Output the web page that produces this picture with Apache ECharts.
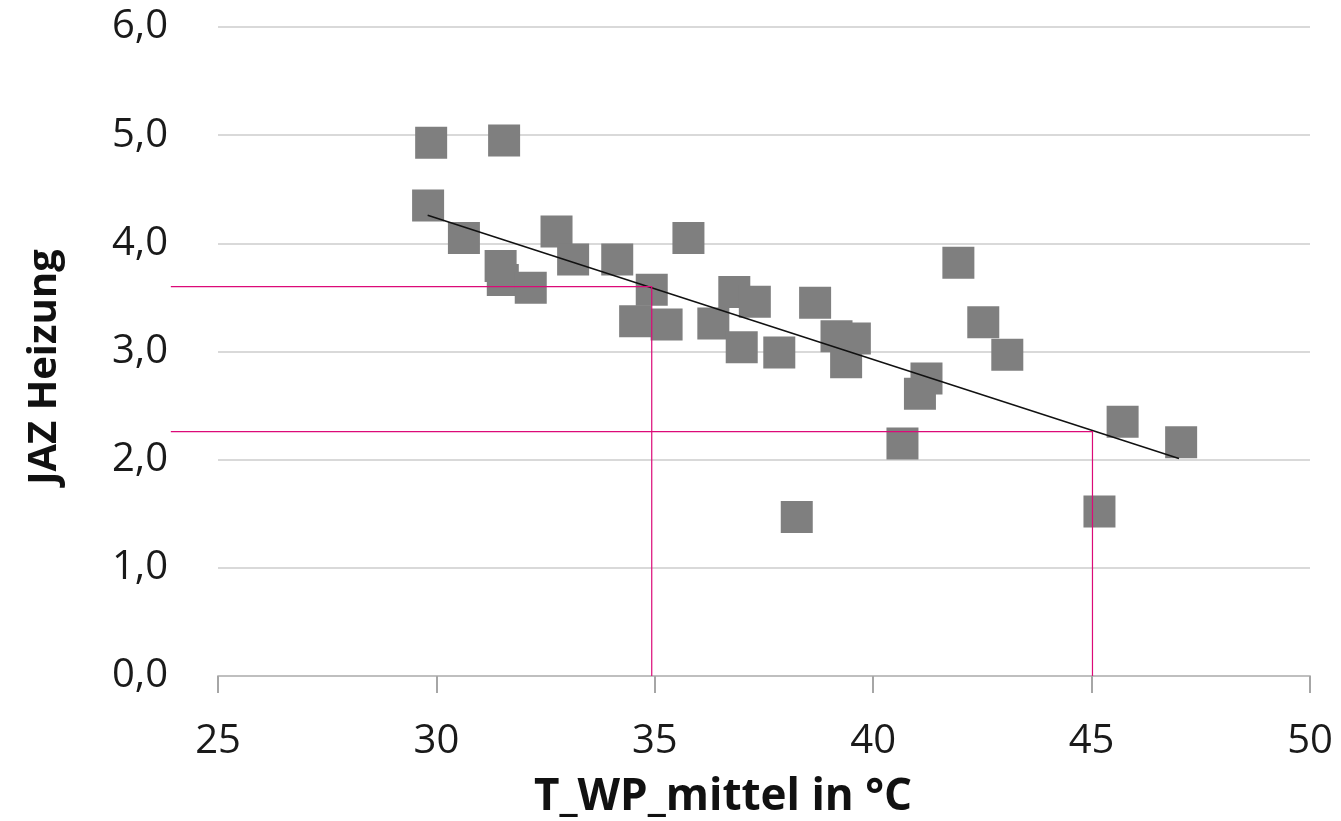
<!DOCTYPE html>
<html>
<head>
<meta charset="utf-8">
<script src="https://cdn.jsdelivr.net/npm/echarts@6/dist/echarts.min.js"></script>
<style>
  html, body { margin: 0; padding: 0; background: #fff; }
  #chart { width: 1341px; height: 821px; }
</style>
</head>
<body>
<div id="chart"></div>
<script>
// measured points: mean heat pump temperature (°C) vs. seasonal performance factor
const tempValues = [29.88, 31.55, 29.81, 30.63, 31.47, 31.52, 32.16, 32.75, 33.13, 34.14,
  35.77, 34.93, 34.55, 35.27, 36.34, 36.82, 37.29, 36.99, 37.85, 38.67,
  39.16, 39.58, 39.38, 41.95, 42.52, 43.07, 41.22, 41.07, 40.67, 38.25,
  45.71, 45.18, 47.05];
const jazValues = [4.93, 4.95, 4.35, 4.05, 3.79, 3.66, 3.59, 4.11, 3.85, 3.85,
  4.05, 3.57, 3.28, 3.25, 3.26, 3.55, 3.46, 3.04, 2.99, 3.45,
  3.14, 3.12, 2.90, 3.82, 3.27, 2.97, 2.75, 2.61, 2.15, 1.47,
  2.35, 1.52, 2.16];

// linear trend line end points (as drawn in the original)
const trendX = [29.8, 47.0];
const trendY = [4.26, 2.01];

// helper lines reading the trend at 35 °C and 45 °C
const guideX = [34.93, 45.02];
const guideY = [3.6, 2.26];
const guideStartX = 23.92;

const xTicks = { min: 25, max: 50, interval: 5 };
const yTicks = { min: 0, max: 6, interval: 1 };

const font = 'Open Sans';
const chart = echarts.init(document.getElementById('chart'));

const titles = [
  {
    type: 'text', x: 723, y: 797,
    style: { text: 'T_WP_mittel in °C', fontFamily: font, fontWeight: 'bold', fontSize: 44,
      fill: '#111', align: 'center', verticalAlign: 'middle' }
  },
  {
    type: 'text', x: 45, y: 367, rotation: Math.PI / 2,
    style: { text: 'JAZ Heizung', fontFamily: font, fontWeight: 'bold', fontSize: 40,
      fill: '#111', align: 'center', verticalAlign: 'middle' }
  }
];

chart.setOption({
  animation: false,
  grid: { left: 218, right: 31, top: 27, bottom: 145 },
  xAxis: {
    type: 'value',
    min: xTicks.min, max: xTicks.max, interval: xTicks.interval,
    axisLine: { show: true, lineStyle: { color: '#bfbfbf', width: 2 } },
    axisTick: { show: true, length: 17, lineStyle: { color: '#a6a6a6', width: 2 } },
    axisLabel: { fontFamily: font, fontSize: 40, color: '#1a1a1a', margin: 46 },
    splitLine: { show: false }
  },
  yAxis: {
    type: 'value',
    min: yTicks.min, max: yTicks.max, interval: yTicks.interval,
    axisLine: { show: false },
    axisTick: { show: false },
    axisLabel: {
      fontFamily: font, fontSize: 40, color: '#1a1a1a', margin: 50,
      formatter: v => v.toFixed(1).replace('.', ',')
    },
    splitLine: { lineStyle: { color: '#d9d9d9', width: 2 } }
  },
  graphic: titles,
  series: [
    {
      type: 'scatter',
      data: tempValues.map((t, i) => [t, jazValues[i]]),
      symbol: 'rect',
      symbolSize: 32,
      itemStyle: { color: '#7f7f7f', opacity: 1 },
      z: 2
    },
    {
      type: 'line',
      data: trendX.map((t, i) => [t, trendY[i]]),
      symbol: 'none',
      lineStyle: { color: '#111', width: 1.5 },
      z: 3,
      silent: true
    }
  ]
});

// magenta guide lines, reaching past the plot into the label area
const guides = guideX.map((gx, i) => ({
  type: 'polyline',
  z: 10,
  silent: true,
  shape: {
    points: [[guideStartX, guideY[i]], [gx, guideY[i]], [gx, 0]]
      .map(p => chart.convertToPixel({ gridIndex: 0 }, p))
  },
  style: { stroke: '#dc0a78', lineWidth: 1.2, fill: null }
}));
chart.setOption({ graphic: titles.concat(guides) });
</script>
</body>
</html>
